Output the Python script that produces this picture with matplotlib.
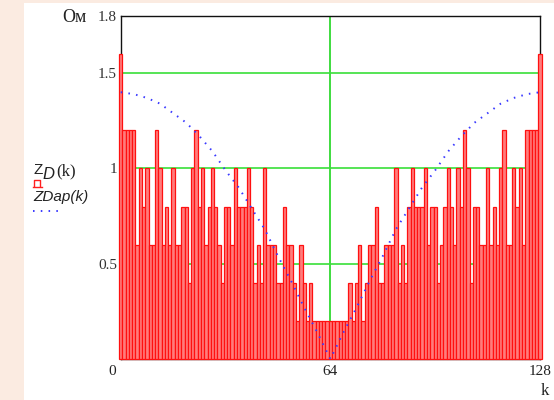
import matplotlib
matplotlib.use("Agg")
import matplotlib.pyplot as plt
import matplotlib.transforms as mtransforms
from matplotlib.patches import Rectangle
from matplotlib.lines import Line2D
import numpy as np

# ---- data ----
# bar heights for k = 0..64; the spectrum is mirror-symmetric (k and 128-k)
zd_half = [1.6, 1.2, 1.2, 1.2, 1.2, 0.6, 1.0, 0.8, 1.0, 0.6,
           0.6, 1.2, 1.0, 0.6, 0.8, 0.6, 1.0, 0.6, 0.6, 0.8,
           0.8, 0.4, 1.0, 1.2, 0.8, 1.0, 0.6, 0.8, 1.0, 0.8,
           0.6, 0.4, 0.8, 0.8, 0.6, 1.0, 0.8, 0.8, 0.8, 1.0,
           0.8, 0.4, 0.6, 0.4, 1.0, 0.6, 0.6, 0.6, 0.4, 0.4,
           0.8, 0.6, 0.6, 0.4, 0.2, 0.6, 0.4, 0.2, 0.4, 0.2,
           0.2, 0.2, 0.2, 0.2, 0.2]
zd_values = zd_half + zd_half[-2::-1]          # k = 0..128
k_values = list(range(len(zd_values)))

# dotted approximation curve, read every 4 samples
k_ap = list(range(0, 129, 4))
zd_ap = [1.40, 1.39, 1.37, 1.34, 1.29, 1.24, 1.17, 1.09, 0.99,
         0.90, 0.79, 0.68, 0.54, 0.41, 0.27, 0.14, 0.00,
         0.14, 0.27, 0.41, 0.54, 0.68, 0.79, 0.90, 0.99,
         1.09, 1.17, 1.24, 1.29, 1.34, 1.37, 1.39, 1.40]

x_ticks = [0, 64, 128]
x_ticklabels = ["0", "64", "128"]
y_ticks = [0.5, 1.0, 1.5, 1.8]
y_ticklabels = ["0.5", "1", "1.5", "1.8"]
y_grid = [0.5, 1.0, 1.5]
x_grid = [64]

W, H = 554, 400
fig = plt.figure(figsize=(W / 100, H / 100), dpi=100)
fig.patch.set_facecolor("#fbebe1")

def fx(x):
    return x / W

def fy(y):
    return 1 - y / H

# white page panel
fig.patches.append(Rectangle((fx(24), 0), 1 - fx(24), fy(3), transform=fig.transFigure,
                             facecolor="white", edgecolor="none", zorder=-5))

ax = fig.add_axes([fx(120.7), fy(359), fx(540) - fx(120.7), fy(16) - fy(359)])
ax.set_facecolor("white")
ax.set_xlim(0, 128)
ax.set_ylim(0, 1.8)

for g in y_grid:
    ax.axhline(g, color="#55e455", lw=1.4, zorder=0.5)
for g in x_grid:
    ax.axvline(g, color="#3fdc3f", lw=1.4, zorder=0.5)

ax.bar(k_values, zd_values, width=1.0, align="center", facecolor="#ff7c7c",
       edgecolor="#ff1010", linewidth=0.9, zorder=3, clip_on=False)

ax.plot(k_ap, zd_ap, color="#3a3aff", lw=1.4, linestyle=(0, (0.8, 3.2)),
        zorder=4, clip_on=False)

for s in ax.spines.values():
    s.set_color("#111111")
    s.set_linewidth(1.0)
    s.set_zorder(2.5)

serif = "Liberation Serif"
ax.set_xticks(x_ticks)
ax.set_xticklabels(x_ticklabels, fontfamily=serif, fontsize=11, color="#222222")
ax.set_yticks(y_ticks)
ax.set_yticklabels(y_ticklabels, fontfamily=serif, fontsize=11, color="#333333")
ax.tick_params(axis="both", length=0)
ax.tick_params(axis="y", pad=2.6)
ax.tick_params(axis="x", pad=4.5)
# shift the "0" label to the left like the reference
lbl0 = ax.get_xticklabels()[0]
lbl0.set_transform(lbl0.get_transform() +
                   mtransforms.ScaledTranslation(-9 / 100, 0, fig.dpi_scale_trans))

# unit and axis names
fig.text(fx(62), fy(18), "Ом", fontfamily=serif, fontsize=13, color="#222222",
         ha="left", va="center")
fig.text(fx(545), fy(391), "k", fontfamily=serif, fontsize=12, color="#222222",
         ha="center", va="center")

# legend on the left
fig.text(fx(34), fy(170), "Z", fontfamily="Liberation Sans", fontsize=11,
         color="#222222", ha="left", va="center")
fig.text(fx(42.5), fy(174), "D", fontfamily="Liberation Sans", fontsize=12,
         style="italic", color="#222222", ha="left", va="center")
fig.text(fx(56), fy(171), "(k)", fontfamily=serif, fontsize=12,
         color="#222222", ha="left", va="center")
red_sym = Line2D([fx(34), fx(34), fx(40), fx(40)], [fy(186), fy(180.5), fy(180.5), fy(186)],
                 transform=fig.transFigure, color="#ff2020", lw=1.0)
red_base = Line2D([fx(32.5), fx(42)], [fy(186.5), fy(186.5)],
                  transform=fig.transFigure, color="#ff2020", lw=1.0)
fig.lines.extend([red_sym, red_base])
fig.text(fx(33), fy(197), "ZDap(k)", fontfamily="Liberation Sans", fontsize=11,
         style="italic", color="#222222", ha="left", va="center")
blue_sym = Line2D([fx(33), fx(59)], [fy(211), fy(211)], transform=fig.transFigure,
                  color="#3a3aff", lw=1.4, linestyle=(0, (0.8, 3.2)))
fig.lines.append(blue_sym)

fig.savefig("out.png", dpi=100, facecolor=fig.get_facecolor())
